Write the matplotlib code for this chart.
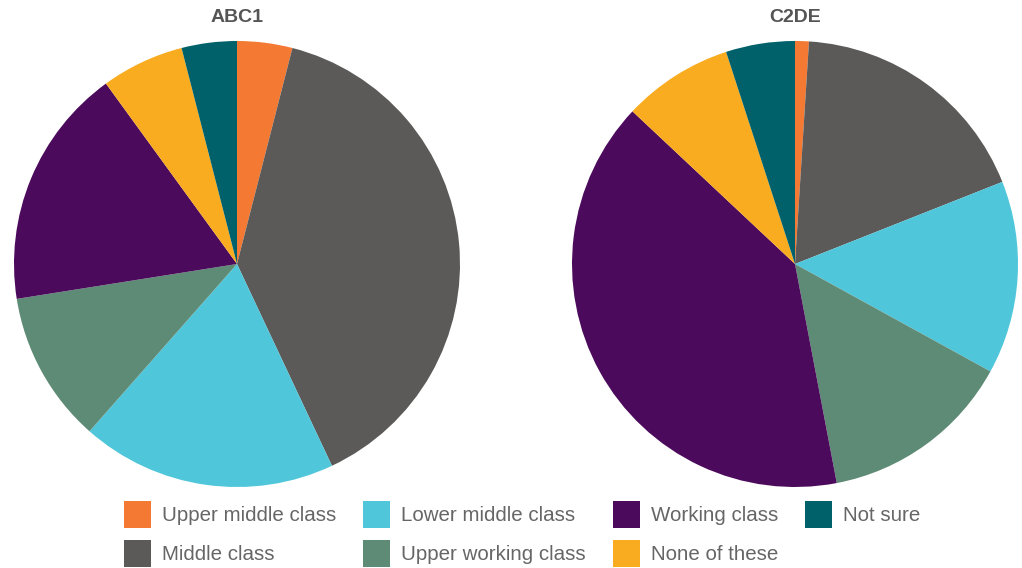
import matplotlib as mpl
mpl.use('Agg')
import matplotlib.pyplot as plt

mpl.rcParams['font.family'] = ['Liberation Sans', 'DejaVu Sans']

labels = ['Upper middle class', 'Middle class', 'Lower middle class',
          'Upper working class', 'Working class', 'None of these', 'Not sure']
colors = ['#F47932', '#5B5A58', '#50C6DA', '#5E8B76', '#4B0A5B', '#F9AC1F', '#00616A']

abc1 = [4, 39, 18.5, 11, 17.5, 6, 4]
c2de = [1, 18, 14, 14, 40, 8, 5]
titles = ['ABC1', 'C2DE']

W, H = 1022, 568
fig = plt.figure(figsize=(W / 100, H / 100), dpi=100)

# pie centres / radius in pixels
centres = [(237, 264), (795, 264)]
r = 223

for (cx, cy), vals, ttl in zip(centres, [abc1, c2de], titles):
    ax = fig.add_axes([(cx - r) / W, (H - cy - r) / H, 2 * r / W, 2 * r / H])
    wedges, _ = ax.pie(vals, colors=colors, startangle=90, counterclock=False,
                       wedgeprops=dict(linewidth=0))
    ax.set_xlim(-1, 1)
    ax.set_ylim(-1, 1)
    ax.set_aspect('equal')
    ax.axis('off')
    fig.text(cx / W, 1 - 17 / H, ttl, ha='center', va='center',
             fontsize=14, fontweight='bold', color='#555555')

handles = [mpl.patches.Patch(facecolor=c, edgecolor='none') for c in colors]
fig.legend(handles, labels, ncol=4, loc='lower left',
           bbox_to_anchor=(124 / W, 0.002), frameon=False, borderpad=0,
           fontsize=14.8, handlelength=1.31, handleheight=1.64,
           handletextpad=0.53, columnspacing=1.32, labelspacing=0.6,
           labelcolor='#666666', borderaxespad=0)

fig.savefig('out.png', dpi=100)
